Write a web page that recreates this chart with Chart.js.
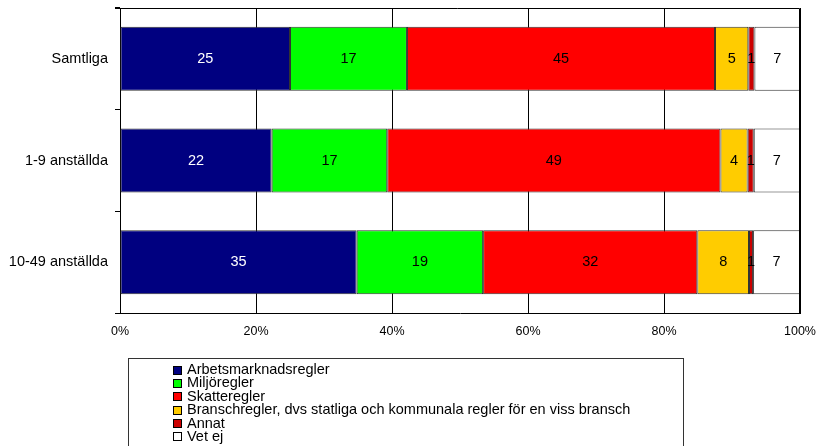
<!DOCTYPE html>
<html>
<head>
<meta charset="utf-8">
<script src="https://cdn.jsdelivr.net/npm/chart.js@4"></script>
<style>
  html, body { margin: 0; padding: 0; background: #fff; }
  #wrap { position: relative; width: 817px; height: 446px; overflow: hidden; }
  #c { position: absolute; left: 0; top: 0; }
  #legend { position: absolute; left: 128px; top: 358px; width: 556px; height: 100px;
            border: 1px solid #333; box-sizing: border-box; font-family: "Liberation Sans", Arial, sans-serif;
            font-size: 14.5px; color: #000; padding-top: 4px; }
  .li { position: relative; height: 13.4px; line-height: 13.4px; padding-left: 58px; white-space: nowrap; }
  .sw { position: absolute; left: 44px; top: 2.5px; width: 7px; height: 7px; border: 1px solid #000; }
</style>
</head>
<body>
<div id="wrap">
  <canvas id="c" width="817" height="446"></canvas>
  <div id="legend"></div>
</div>
<script>
const categories = ["Samtliga", "1-9 anställda", "10-49 anställda"];
const seriesNames = [
  "Arbetsmarknadsregler",
  "Miljöregler",
  "Skatteregler",
  "Branschregler, dvs statliga och kommunala regler för en viss bransch",
  "Annat",
  "Vet ej"
];
const arbetsmarknadsregler = [25.0, 22.3, 34.8];
const miljoregler         = [17.2, 17.0, 18.6];
const skatteregler        = [45.3, 49.0, 31.5];
const branschregler       = [4.9, 4.0, 7.6];
const annat               = [0.9, 0.9, 0.6];
const vetEj               = [6.7, 6.8, 6.9];
const xTickValues = [0, 20, 40, 60, 80, 100];

const seriesValues = [arbetsmarknadsregler, miljoregler, skatteregler, branschregler, annat, vetEj];
const colors = ["#000080", "#00FF00", "#FF0000", "#FFCC00", "#CC0000", "#FFFFFF"];
const labelColors = ["#FFFFFF", "#000000", "#000000", "#000000", "#000000", "#000000"];

const FONT = "'Liberation Sans', Arial, sans-serif";

const datasets = seriesNames.map((name, i) => ({
  label: name,
  data: seriesValues[i],
  backgroundColor: colors[i],
  borderColor: "#333333",
  borderWidth: 1,
  borderSkipped: false,
  barPercentage: 0.63,
  categoryPercentage: 1.0
}));

const valueLabels = {
  id: "valueLabels",
  afterDatasetsDraw(chart) {
    const ctx = chart.ctx;
    ctx.save();
    ctx.font = "14.5px " + FONT;
    ctx.textAlign = "center";
    ctx.textBaseline = "middle";
    chart.data.datasets.forEach((ds, di) => {
      const meta = chart.getDatasetMeta(di);
      meta.data.forEach((el, i) => {
        const cx = (el.x + el.base) / 2;
        ctx.fillStyle = labelColors[di];
        ctx.fillText(String(Math.round(ds.data[i])), cx, el.y);
      });
    });
    ctx.restore();
  }
};

const frame = {
  id: "frame",
  afterDraw(chart) {
    const a = chart.chartArea;
    const ctx = chart.ctx;
    const t = Math.round(a.top) + 0.5;
    const r = Math.round(a.right) - 0.5;
    ctx.save();
    ctx.strokeStyle = "#000";
    ctx.lineWidth = 1;
    ctx.beginPath();
    ctx.moveTo(a.left - 5, t);
    ctx.lineTo(r, t);
    ctx.lineTo(r, a.bottom);
    ctx.stroke();
    ctx.restore();
  }
};

new Chart(document.getElementById("c"), {
  type: "bar",
  data: { labels: categories, datasets },
  options: {
    indexAxis: "y",
    responsive: false,
    animation: false,
    layout: { padding: { top: 8, right: 17, bottom: 103, left: 0 } },
    plugins: { legend: { display: false }, tooltip: { enabled: false } },
    scales: {
      x: {
        stacked: true,
        min: 0, max: 100,
        afterBuildTicks(scale) { scale.ticks = xTickValues.map(v => ({ value: v })); },
        afterFit(scale) { scale.height = 30; scale.paddingLeft = 0; scale.paddingRight = 0; },
        grid: { color: "#000", lineWidth: 1, drawTicks: false },
        border: { color: "#000", width: 1 },
        ticks: {
          padding: 11,
          color: "#000",
          font: { family: FONT, size: 12.5 },
          callback: v => v + "%"
        }
      },
      y: {
        stacked: true,
        offset: true,
        afterFit(scale) { scale.width = 120; scale.paddingTop = 0; scale.paddingBottom = 0; },
        grid: { drawOnChartArea: false, offset: true, tickLength: 5, color: "#000" },
        border: { color: "#000", width: 1 },
        ticks: {
          padding: 7,
          color: "#000",
          font: { family: FONT, size: 14.5 }
        }
      }
    }
  },
  plugins: [valueLabels, frame]
});

const leg = document.getElementById("legend");
seriesNames.forEach((name, i) => {
  const d = document.createElement("div");
  d.className = "li";
  const s = document.createElement("span");
  s.className = "sw";
  s.style.background = colors[i];
  d.appendChild(s);
  d.appendChild(document.createTextNode(name));
  leg.appendChild(d);
});
</script>
</body>
</html>
